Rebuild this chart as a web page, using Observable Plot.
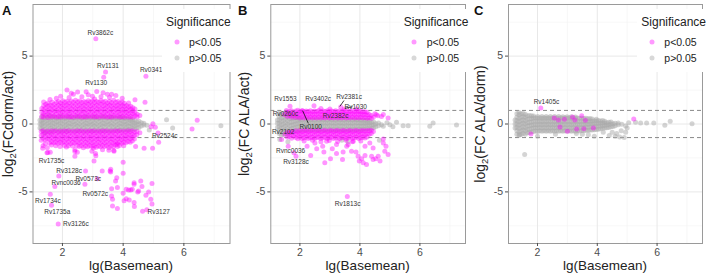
<!DOCTYPE html>
<html><head><meta charset="utf-8">
<script src="https://cdn.jsdelivr.net/npm/d3@7"></script>
<script src="https://cdn.jsdelivr.net/npm/@observablehq/plot@0.6"></script>
<style>
body{margin:0;background:#fff;font-family:"Liberation Sans",Arial,sans-serif;}
#wrap{display:flex;width:708px;height:276px;}
.panel{position:relative;width:236px;height:276px;}
.panel svg{position:absolute;left:0;top:0;}
.abs{position:absolute;white-space:nowrap;line-height:1;}
.letter{font-weight:bold;font-size:13px;color:#111;}
.xt{font-size:13.5px;color:#222;transform:translate(-50%,0);}
.yt{font-size:14px;color:#222;transform:translate(-50%,-50%) rotate(-90deg);}
.yt .s{font-size:9.5px;position:relative;top:3px;}
.leg{background:#fff;}
.lt{font-size:12px;color:#222;}
.li{font-size:10.5px;color:#222;}
.ld{width:5px;height:5px;border-radius:50%;transform:translate(-50%,-50%);}
</style></head>
<body><div id="wrap"></div>
<script>
// x domain / y domain shared
const xDomain = [1.03, 7.52];
const yDomain = [-8.8, 8.8];
const xMajor = [2, 4, 6], xMinor = [3, 5, 7];
const yMajor = [-5, 0, 5], yMinor = [-7.5, -2.5, 2.5, 7.5];
const legendLabels = ["p<0.05", "p>0.05"];

// ---------- Panel A (dorm/act) ----------
const aGrayRows = [
[1.26,-0.3,0.0,0.28],
[1.31,-0.35,-0.05,0.22,0.48],
[1.36,-0.52,-0.2,0.05,0.3,0.6],
[1.42,-0.4,-0.12,0.15,0.42,-0.68],
[1.49,-0.55,-0.28,0.0,0.25,0.5],
[1.55,-0.45,-0.15,0.1,0.35,0.62],
[1.62,-0.6,-0.3,-0.05,0.2,0.45],
[1.68,-0.42,-0.18,0.08,0.32,0.55],
[1.75,-0.5,-0.25,0.02,0.28,0.52],
[1.81,-0.38,-0.1,0.15,0.4],
[1.88,-0.55,-0.3,-0.02,0.22,0.47],
[1.94,-0.45,-0.18,0.1,0.35,0.58],
[2.01,-0.52,-0.25,0.0,0.26,0.5],
[2.08,-0.4,-0.12,0.14,0.4],
[2.14,-0.55,-0.28,-0.04,0.22,0.48],
[2.21,-0.45,-0.16,0.08,0.34,0.56],
[2.28,-0.5,-0.22,0.02,0.28,0.5],
[2.35,-0.38,-0.1,0.16,0.42],
[2.42,-0.52,-0.26,-0.02,0.24,0.48],
[2.49,-0.44,-0.15,0.1,0.36,0.55],
[2.56,-0.5,-0.24,0.0,0.27,0.5],
[2.63,-0.4,-0.12,0.14,0.4],
[2.70,-0.54,-0.27,-0.03,0.22,0.47],
[2.77,-0.45,-0.17,0.08,0.33,0.55],
[2.84,-0.5,-0.23,0.02,0.28,0.5],
[2.91,-0.4,-0.1,0.15,0.42],
[2.98,-0.52,-0.26,-0.02,0.24,0.48],
[3.05,-0.44,-0.15,0.1,0.35,0.54],
[3.12,-0.5,-0.24,0.0,0.27,0.5],
[3.19,-0.4,-0.12,0.14,0.4],
[3.26,-0.52,-0.27,-0.03,0.22,0.46],
[3.33,-0.45,-0.17,0.08,0.33,0.55],
[3.40,-0.5,-0.23,0.02,0.28,0.5],
[3.47,-0.4,-0.1,0.15,0.42],
[3.54,-0.52,-0.26,-0.02,0.24,0.48],
[3.61,-0.44,-0.15,0.1,0.35,0.52],
[3.68,-0.48,-0.24,0.0,0.27,0.48],
[3.75,-0.4,-0.12,0.14,0.4],
[3.82,-0.5,-0.27,-0.03,0.22,0.45],
[3.89,-0.44,-0.17,0.08,0.33,0.5],
[3.96,-0.46,-0.22,0.02,0.26,0.46],
[4.03,-0.38,-0.1,0.15,0.4],
[4.10,-0.45,-0.24,-0.02,0.22,0.42],
[4.17,-0.4,-0.14,0.1,0.33],
[4.24,-0.42,-0.2,0.02,0.25,0.4],
[4.31,-0.32,-0.08,0.14,0.32],
[4.38,-0.38,-0.16,0.05,0.25],
[4.45,-0.3,-0.06,0.15],
[4.52,-0.25,0.0,0.2],
[4.60,-0.15,0.1],
[4.68,-0.08,0.05],
[4.78,-0.1]
];
const aGrayExtra = [[5.43,0.32],[5.63,-0.29],[7.22,-0.12],[4.86,-0.45]];
const aUpRows = [
[1.32,0.55,0.85,1.15],
[1.38,0.5,0.78,1.05,1.35,1.62],
[1.45,0.62,0.9,1.2,1.45],
[1.52,0.48,0.75,1.02,1.3,1.55],
[1.59,0.58,0.88,1.12,1.4,1.8],
[1.66,0.52,0.8,1.05,1.32,1.6],
[1.73,0.6,0.92,1.18,1.45],
[1.80,0.5,0.76,1.0,1.28,1.58,1.9],
[1.87,0.56,0.84,1.1,1.38,1.65],
[1.94,0.5,0.78,1.04,1.3,1.55,2.05],
[2.01,0.6,0.88,1.15,1.42,1.72],
[2.08,0.52,0.8,1.06,1.34,1.6],
[2.15,0.58,0.86,1.12,1.4,1.68,2.5],
[2.22,0.5,0.76,1.02,1.3,1.56,1.95],
[2.29,0.56,0.84,1.1,1.38,1.7,2.27],
[2.36,0.5,0.78,1.05,1.32,1.6,2.2],
[2.43,0.6,0.88,1.15,1.45,1.75],
[2.50,0.52,0.8,1.08,1.35,1.62,2.35],
[2.57,0.58,0.86,1.12,1.4,1.7],
[2.64,0.5,0.76,1.02,1.3,1.58,2.0],
[2.71,0.56,0.84,1.1,1.38,1.66],
[2.78,0.5,0.78,1.05,1.32,1.6,2.38],
[2.85,0.6,0.88,1.15,1.45,1.72,2.15],
[2.92,0.52,0.8,1.08,1.35,1.62],
[2.99,0.58,0.86,1.12,1.4,1.7,2.05],
[3.06,0.5,0.76,1.02,1.3,1.58,1.85],
[3.13,0.56,0.84,1.1,1.38,1.66,2.4],
[3.20,0.5,0.78,1.05,1.32,1.6],
[3.27,0.6,0.88,1.15,1.45,1.72,2.0],
[3.34,0.52,0.8,1.08,1.35,1.62,2.3],
[3.41,0.58,0.86,1.12,1.4,1.68],
[3.48,0.5,0.76,1.02,1.3,1.55,2.2],
[3.55,0.56,0.84,1.1,1.38,1.65,1.95],
[3.62,0.5,0.78,1.05,1.32,1.58,2.2],
[3.69,0.6,0.88,1.15,1.42,1.75],
[3.76,0.52,0.8,1.06,1.32,1.6,2.1],
[3.83,0.58,0.86,1.12,1.38,1.65],
[3.90,0.5,0.76,1.02,1.28,1.55],
[3.97,0.56,0.82,1.08,1.35,1.62,1.9],
[4.04,0.5,0.78,1.04,1.3,1.52],
[4.11,0.58,0.85,1.1,1.36],
[4.18,0.5,0.76,1.0,1.25,1.55],
[4.25,0.55,0.82,1.08,1.3],
[4.32,0.5,0.75,0.98,1.2],
[4.39,0.6,0.85,1.1,1.78],
[4.46,0.52,0.72],
[4.55,0.62],
[4.72,1.6]
];
const aDownRows = [
[1.30,-0.55,-0.85,-1.2],
[1.36,-0.5,-0.78,-1.05,-1.6],
[1.43,-0.6,-0.9,-1.18,-1.45],
[1.50,-0.52,-0.8,-1.08,-1.75],
[1.57,-0.58,-0.86,-1.12,-1.4],
[1.64,-0.5,-0.76,-1.02,-1.3,-1.55],
[1.71,-0.56,-0.84,-1.1,-1.38],
[1.78,-0.5,-0.78,-1.05,-1.32,-1.6],
[1.85,-0.6,-0.88,-1.15,-1.42],
[1.92,-0.52,-0.8,-1.08,-1.35,-1.65],
[1.99,-0.58,-0.86,-1.12,-1.4],
[2.06,-0.5,-0.76,-1.02,-1.3,-1.58],
[2.13,-0.56,-0.84,-1.1,-1.38,-1.7],
[2.20,-0.5,-0.78,-1.05,-1.32,-1.6],
[2.27,-0.6,-0.88,-1.15,-1.45],
[2.34,-0.52,-0.8,-1.08,-1.35,-1.62],
[2.41,-0.58,-0.86,-1.12,-1.4,-1.9],
[2.48,-0.5,-0.76,-1.02,-1.3,-1.58],
[2.55,-0.56,-0.84,-1.1,-1.38,-1.66],
[2.62,-0.5,-0.78,-1.05,-1.32,-1.6],
[2.69,-0.6,-0.88,-1.15,-1.45,-1.75],
[2.76,-0.52,-0.8,-1.08,-1.35,-1.62],
[2.83,-0.58,-0.86,-1.12,-1.4,-1.68],
[2.90,-0.5,-0.76,-1.02,-1.3,-1.58],
[2.97,-0.56,-0.84,-1.1,-1.38,-1.66,-2.0],
[3.04,-0.5,-0.78,-1.05,-1.32,-1.6],
[3.11,-0.6,-0.88,-1.15,-1.45,-1.72],
[3.18,-0.52,-0.8,-1.08,-1.35,-1.62],
[3.25,-0.58,-0.86,-1.12,-1.4,-1.68],
[3.32,-0.5,-0.76,-1.02,-1.3,-1.58,-1.9],
[3.39,-0.56,-0.84,-1.1,-1.38,-1.66],
[3.46,-0.5,-0.78,-1.05,-1.32,-1.6],
[3.53,-0.6,-0.88,-1.15,-1.45,-1.75],
[3.60,-0.52,-0.8,-1.08,-1.35,-1.62],
[3.67,-0.58,-0.86,-1.12,-1.4,-1.68],
[3.74,-0.5,-0.76,-1.02,-1.3,-1.55],
[3.81,-0.56,-0.84,-1.1,-1.38,-1.65],
[3.88,-0.5,-0.78,-1.05,-1.32,-1.58],
[3.95,-0.6,-0.88,-1.15,-1.42],
[4.02,-0.52,-0.8,-1.06,-1.32,-1.6],
[4.09,-0.58,-0.85,-1.1,-1.38],
[4.16,-0.5,-0.76,-1.02,-1.28],
[4.23,-0.55,-0.82,-1.08,-1.35],
[4.30,-0.5,-0.75,-1.0,-1.25],
[4.37,-0.58,-0.85,-1.1],
[4.45,-0.55,-0.8],
[4.55,-0.65]
];
const aSigExtra = [
[3.10,6.27],[3.42,3.83],[3.36,3.44],[4.75,3.51],
[5.06,-0.24],[5.15,-0.66],[5.17,-1.34],[6.44,0.27],[6.27,-0.37],[4.92,-0.2],[4.98,0.02],
[1.35,-1.78],[1.52,-2.1],[2.41,-2.03],[3.02,-1.78],[3.1,-2.34],[3.69,-1.95],[4.41,-1.66],[4.69,-1.78],[4.97,-1.78],[3.8,-1.5],
[1.49,-2.12],[1.60,-2.08],[2.49,-2.08],[2.41,-2.37],[3.09,-2.17],[3.04,-2.73],[3.53,-1.93],[3.70,-2.0],[4.00,-2.81],
[1.88,-3.83],[1.75,-4.61],[1.60,-5.17],[1.64,-5.98],[1.86,-7.37],
[2.74,-4.44],[2.76,-3.47],[3.15,-4.03],[3.31,-3.47],[3.59,-3.54],[3.59,-3.34],[3.75,-4.2],[3.62,-4.76],[3.81,-4.68],
[4.0,-3.63],[4.18,-4.86],[4.25,-4.86],[4.3,-4.8],[4.36,-4.32],[4.36,-4.44],[4.58,-4.2],[4.95,-4.39],[4.51,-4.93],
[4.75,-5.25],[4.91,-5.54],[4.95,-5.9],[4.64,-6.42],[4.78,-6.32],[4.03,-5.66],[4.1,-5.5],[4.2,-5.6],[3.65,-5.54],
[3.65,-6.03],[3.81,-6.22],[4.0,-5.1],[4.36,-5.78],[4.37,-6.07],[4.48,-5.0],[4.62,-4.6],[4.84,-5.0],[3.57,-3.46],
[3.79,-3.95],[4.1,-4.8],[3.62,-5.3]
];
const aLabels = [
["Rv3862c",3.25,6.71],["Rv1131",3.5,4.29],["Rv1130",3.11,2.99],["Rv0341",4.92,3.97],["Rv2524c",5.37,-0.88],
["Rv1735c",1.64,-2.7],["Rv3128c",2.22,-3.46],["Rv0573c",2.85,-4.04],["Rvnc0036",2.12,-4.36],["Rv0572c",3.08,-5.15],
["Rv1734c",1.52,-5.68],["Rv1735a",1.83,-6.47],["Rv3126c",2.44,-7.38],["Rv3127",5.17,-6.47]
];
const aLinks = [];

// ---------- Panel B (ALA/act) ----------
const bGrayRows = [
[1.25,-0.25,0.05,0.3],
[1.31,-0.7,-0.45,-0.2,0.05,0.3,0.55,0.8],
[1.38,-0.82,-0.55,-0.3,-0.05,0.2,0.45,0.7],
[1.45,-0.75,-0.5,-0.25,0.0,0.25,0.5,0.78],
[1.52,-0.68,-0.42,-0.15,0.1,0.35,0.62,0.85],
[1.59,-0.78,-0.52,-0.28,-0.02,0.24,0.5,0.75],
[1.66,-0.65,-0.4,-0.12,0.12,0.38,0.62],
[1.73,-0.6,-0.35,-0.1,0.15,0.4,0.6],
[1.80,-0.55,-0.3,-0.05,0.2,0.45],
[1.87,-0.5,-0.26,0.0,0.24,0.48],
[1.94,-0.48,-0.22,0.03,0.28,0.45],
[2.01,-0.45,-0.2,0.05,0.3,0.42],
[2.08,-0.42,-0.16,0.08,0.32],
[2.15,-0.4,-0.14,0.1,0.36],
[2.22,-0.44,-0.18,0.06,0.3],
[2.29,-0.4,-0.12,0.12,0.35],
[2.36,-0.42,-0.16,0.08,0.32],
[2.43,-0.38,-0.12,0.1,0.34],
[2.50,-0.42,-0.18,0.06,0.3],
[2.57,-0.4,-0.14,0.1,0.35],
[2.64,-0.44,-0.18,0.06,0.3],
[2.71,-0.38,-0.12,0.12,0.35],
[2.78,-0.42,-0.16,0.08,0.32],
[2.85,-0.4,-0.14,0.1,0.34],
[2.92,-0.44,-0.18,0.06,0.3],
[2.99,-0.38,-0.12,0.12,0.36],
[3.06,-0.42,-0.16,0.08,0.32],
[3.13,-0.4,-0.14,0.1,0.34],
[3.20,-0.44,-0.18,0.06,0.3],
[3.27,-0.38,-0.12,0.12,0.35],
[3.34,-0.42,-0.16,0.08,0.32],
[3.41,-0.4,-0.14,0.1,0.34],
[3.48,-0.44,-0.18,0.06,0.3],
[3.55,-0.38,-0.12,0.12,0.35],
[3.62,-0.42,-0.16,0.08,0.32],
[3.69,-0.4,-0.14,0.1,0.33],
[3.76,-0.43,-0.18,0.06,0.3],
[3.83,-0.38,-0.12,0.12,0.34],
[3.90,-0.42,-0.16,0.08,0.3],
[3.97,-0.38,-0.14,0.1,0.32],
[4.04,-0.4,-0.16,0.06,0.28],
[4.11,-0.36,-0.12,0.1,0.3],
[4.18,-0.38,-0.15,0.06,0.26],
[4.25,-0.34,-0.1,0.1,0.28],
[4.32,-0.36,-0.12,0.08,0.25],
[4.39,-0.3,-0.08,0.12],
[4.46,-0.28,-0.05,0.15],
[4.53,-0.2,0.02],
[4.62,-0.12,0.08],
[4.72,-0.05]
];
const bGrayExtra = [[4.78,-0.17],[5.0,-0.05],[5.1,-0.2],[5.22,0.12],[5.44,-0.12],[5.61,-0.12],[6.33,-0.17],[6.44,0.07],[7.22,-0.07],
[1.33,-1.15],[1.6,-1.3],[3.4,-1.2],[3.6,-1.3],[4.65,-1.2],[4.9,0.1]];
const bUpRows = [
[1.48,0.7],[1.58,0.55,0.85],[1.65,0.62,0.92],[1.72,0.5,0.75,0.98],[1.79,0.58,0.82],
[1.86,0.48,0.72,0.95],[1.93,0.55,0.8,1.02],[2.00,0.45,0.7,0.92],[2.07,0.52,0.78,0.98],[2.14,0.44,0.68,0.9],
[2.21,0.5,0.75,0.96],[2.28,0.45,0.7,0.92],[2.35,0.52,0.76,0.98],[2.42,0.44,0.68,0.9],[2.49,0.5,0.74,0.96],
[2.56,0.45,0.7,0.92],[2.63,0.52,0.76,1.0],[2.70,0.44,0.68,0.9],[2.77,0.5,0.74,0.96],[2.84,0.45,0.7,0.92],
[2.91,0.52,0.76,0.98],[2.98,0.44,0.68,0.9],[3.05,0.5,0.74,0.96],[3.12,0.45,0.7,0.92],[3.19,0.52,0.76,0.98],
[3.26,0.44,0.68,0.9],[3.33,0.5,0.74,0.96],[3.40,0.45,0.7,0.92],[3.47,0.52,0.76,0.98],[3.54,0.44,0.68,0.9],
[3.61,0.5,0.74,0.96],[3.68,0.45,0.7,0.92],[3.75,0.52,0.76,0.98],[3.82,0.44,0.68,0.9],[3.89,0.5,0.74,0.95],
[3.96,0.45,0.7,0.92],[4.03,0.5,0.74,0.94],[4.10,0.44,0.68,0.88],[4.17,0.48,0.72,0.9],[4.24,0.42,0.66,0.86],
[4.31,0.46,0.7],[4.38,0.42,0.62],[4.45,0.5]
];
const bDownRows = [
[1.50,-0.75],[1.58,-0.6,-0.95],[1.65,-0.65,-0.9],[1.72,-0.55,-0.8,-1.05],[1.79,-0.6,-0.88],
[1.86,-0.5,-0.75,-1.0],[1.93,-0.58,-0.82,-1.08],[2.00,-0.48,-0.72,-0.98],[2.07,-0.55,-0.8,-1.06],[2.14,-0.5,-0.76,-1.02,-1.25],
[2.21,-0.48,-0.72,-0.98],[2.28,-0.55,-0.8,-1.06],[2.35,-0.5,-0.76,-1.02],[2.42,-0.48,-0.72,-0.98,-1.2],[2.49,-0.55,-0.8,-1.06],
[2.56,-0.5,-0.76,-1.02],[2.63,-0.48,-0.72,-0.98],[2.70,-0.55,-0.8,-1.06,-1.3],[2.77,-0.5,-0.76,-1.02],[2.84,-0.48,-0.72,-0.98],
[2.91,-0.55,-0.8,-1.06],[2.98,-0.5,-0.76,-1.02,-1.22],[3.05,-0.48,-0.72,-0.98],[3.12,-0.55,-0.8,-1.06],[3.19,-0.5,-0.76,-1.02],
[3.26,-0.48,-0.72,-0.98,-1.28],[3.33,-0.55,-0.8,-1.06],[3.40,-0.5,-0.76,-1.02],[3.47,-0.48,-0.72,-0.98],[3.54,-0.55,-0.8,-1.06,-1.2],
[3.61,-0.5,-0.76,-1.02],[3.68,-0.48,-0.72,-0.98],[3.75,-0.55,-0.8,-1.06,-1.3],[3.82,-0.5,-0.76,-1.02],[3.89,-0.48,-0.72,-0.98],
[3.96,-0.55,-0.8,-1.06],[4.03,-0.5,-0.76,-1.02,-1.25],[4.10,-0.48,-0.72,-0.98],[4.17,-0.52,-0.78,-1.04],[4.24,-0.48,-0.72,-0.96],
[4.31,-0.5,-0.75],[4.38,-0.46,-0.7],[4.45,-0.55]
];
const bSigExtra = [
[1.67,1.3],[2.47,1.35],[3.36,1.25],[3.47,1.1],[2.09,0.98],[2.7,1.15],[3.0,1.1],[3.9,1.1],[4.78,0.7],[4.94,0.44],[4.6,0.6],[4.5,0.75],[1.55,1.0],[4.55,0.68],[4.72,0.55],
[1.39,-1.15],[1.61,-1.63],[1.8,-2.12],[1.87,-2.37],[2.36,-2.32],[2.56,-1.83],[2.76,-1.63],[2.8,-2.07],[2.83,-2.85],[3.02,-2.56],
[3.08,-1.83],[3.22,-2.17],[3.42,-2.61],[3.44,-2.07],[3.61,-1.51],[3.72,-2.0],[3.87,-2.07],[3.94,-2.37],[3.98,-2.73],[4.06,-2.56],
[4.11,-2.85],[4.17,-2.32],[4.22,-2.98],[4.33,-1.39],[4.39,-2.37],[4.44,-2.61],[4.53,-2.56],[4.61,-2.37],[4.67,-2.73],[4.78,-1.1],
[4.87,-1.63],[4.94,-2.24],[4.83,-2.0],[4.78,-1.39],[2.24,-1.63],[2.5,-1.39],[2.89,-1.27],[3.22,-1.51],[3.56,-1.63],[3.78,-1.27],
[4.17,-1.63],[4.44,-1.76],[3.58,-5.34]
];
const bLabels = [
["Rv1553",1.52,1.83],["Rv3402c",2.61,1.83],["Rv2381c",3.64,2.02],["Rv1030",3.86,1.27],["Rv0260c",1.52,0.73],
["Rv2382c",3.19,0.61],["Rv0100",2.36,-0.2],["Rv2102",1.44,-0.59],["Rvnc0036",1.69,-2.0],["Rv3128c",1.87,-2.8],["Rv1813c",3.59,-5.85]
];
const bLinks = [[2.09,0.98,2.28,0.05],[3.33,1.29,3.47,1.73],[3.5,1.15,3.75,1.27]];

// ---------- Panel C (ALA/dorm) ----------
const cGrayRows = [
[1.25,-0.3,0.0,0.3],
[1.31,-0.75,-0.5,-0.25,0.0,0.25,0.5,0.75],
[1.38,-0.82,-0.58,-0.32,-0.08,0.18,0.42,0.68,0.85],
[1.45,-0.78,-0.52,-0.28,0.0,0.25,0.5,0.75],
[1.52,-0.7,-0.45,-0.2,0.05,0.3,0.55,0.78],
[1.59,-0.75,-0.5,-0.25,0.0,0.25,0.5,0.72],
[1.66,-0.65,-0.4,-0.15,0.1,0.35,0.6],
[1.73,-0.62,-0.38,-0.12,0.12,0.38,0.62],
[1.80,-0.58,-0.34,-0.1,0.15,0.4,0.6],
[1.87,-0.55,-0.3,-0.05,0.2,0.45,0.58],
[1.94,-0.52,-0.28,-0.03,0.22,0.46],
[2.01,-0.55,-0.3,-0.06,0.18,0.42,0.55],
[2.08,-0.5,-0.26,-0.02,0.22,0.46],
[2.15,-0.54,-0.3,-0.06,0.18,0.42,0.56],
[2.22,-0.5,-0.26,-0.02,0.22,0.46],
[2.29,-0.54,-0.3,-0.06,0.18,0.42,0.55],
[2.36,-0.5,-0.26,-0.02,0.22,0.46],
[2.43,-0.54,-0.3,-0.06,0.18,0.42,0.56],
[2.50,-0.5,-0.26,-0.02,0.22,0.46],
[2.57,-0.54,-0.3,-0.06,0.18,0.42,0.55],
[2.64,-0.5,-0.26,-0.02,0.22,0.46],
[2.71,-0.54,-0.3,-0.06,0.18,0.42,0.55],
[2.78,-0.5,-0.26,-0.02,0.22,0.46],
[2.85,-0.54,-0.3,-0.06,0.18,0.42,0.54],
[2.92,-0.5,-0.26,-0.02,0.22,0.46],
[2.99,-0.54,-0.3,-0.06,0.18,0.42,0.54],
[3.06,-0.5,-0.26,-0.02,0.22,0.46],
[3.13,-0.54,-0.3,-0.06,0.18,0.42,0.53],
[3.20,-0.5,-0.26,-0.02,0.22,0.46],
[3.27,-0.54,-0.3,-0.06,0.18,0.42,0.52],
[3.34,-0.5,-0.26,-0.02,0.22,0.45],
[3.41,-0.52,-0.28,-0.05,0.18,0.42],
[3.48,-0.48,-0.25,-0.02,0.22,0.44],
[3.55,-0.5,-0.27,-0.05,0.18,0.4],
[3.62,-0.46,-0.22,0.0,0.22,0.42],
[3.69,-0.48,-0.25,-0.03,0.18,0.38],
[3.76,-0.44,-0.2,0.02,0.22,0.4],
[3.83,-0.45,-0.22,0.0,0.2,0.36],
[3.90,-0.42,-0.18,0.04,0.24],
[3.97,-0.4,-0.18,0.02,0.22,0.35],
[4.04,-0.38,-0.15,0.06,0.25],
[4.11,-0.35,-0.14,0.05,0.22],
[4.18,-0.32,-0.12,0.08,0.25],
[4.25,-0.3,-0.1,0.08,0.2],
[4.32,-0.28,-0.08,0.1],
[4.39,-0.25,-0.06,0.12],
[4.46,-0.2,0.0,0.15],
[4.53,-0.18,0.02],
[4.60,-0.12,0.06],
[4.70,-0.05,0.08],
[4.82,-0.02]
];
const cGrayExtra = [[1.57,-2.25],[5.28,0.12],[5.45,0.08],[5.65,0.08],[5.89,0.07],[6.26,-0.1],[6.44,0.2],[7.17,0.02],
[4.6,-0.9],[4.75,-0.95],[4.9,-1.0],[4.4,-0.85],[3.7,-0.8],[3.5,-0.75],[2.0,-0.9],[1.4,-0.8],[4.95,-0.6],[5.0,-0.3],[3.9,-0.9],
[4.5,-0.6],[4.65,-0.7],[4.8,-0.5],[4.2,-0.6],[3.3,-0.7],[2.6,-0.75],[5.05,0.1],[4.95,-0.15]];
const cUpRows = [];
const cDownRows = [];
const cSigExtra = [[2.11,1.17],[1.78,-0.73],[2.56,0.44],[3.17,0.51],[3.48,0.61],[5.22,0.37],[3.0,-0.54],[3.31,-0.37],[3.87,-0.29],
[2.7,0.3],[2.9,0.35],[3.25,0.3],[3.55,-0.35],[2.75,-0.22],[3.6,0.28]];
const cLabels = [["Rv1405c",2.3,1.66]];
const cLinks = [];

// ---------- build ----------
const rowsToPts = rows => rows.flatMap(([x, ...ys]) => ys.map(y => ({x, y})));
const pairs = arr => arr.map(([x, y]) => ({x, y}));

const panels = [
  {letter:"A", gray:[...rowsToPts(aGrayRows), ...pairs(aGrayExtra)], sig:[...rowsToPts(aUpRows), ...rowsToPts(aDownRows), ...pairs(aSigExtra)],
   labels:aLabels, links:aLinks, ml:32.5, mr:6.5, ytitle:["log","2","(FCdorm/act)"], legX:166},
  {letter:"B", gray:[...rowsToPts(bGrayRows), ...pairs(bGrayExtra)], sig:[...rowsToPts(bUpRows), ...rowsToPts(bDownRows), ...pairs(bSigExtra)],
   labels:bLabels, links:bLinks, ml:34.3, mr:7, ytitle:["log","2","(FC ALA/act)"], legX:167.7},
  {letter:"C", gray:[...rowsToPts(cGrayRows), ...pairs(cGrayExtra)], sig:[...rowsToPts(cUpRows), ...rowsToPts(cDownRows), ...pairs(cSigExtra)],
   labels:cLabels, links:cLinks, ml:36, mr:6, ytitle:["log","2","(FC ALA/dorm)"], legX:169.3}
];

const W = 236, H = 276, MT = 4, MB = 33;
const wrap = document.getElementById("wrap");
for (const p of panels) {
  const div = document.createElement("div");
  div.className = "panel";
  const chart = Plot.plot({
    width: W, height: H, marginLeft: p.ml, marginRight: p.mr, marginTop: MT, marginBottom: MB,
    x: {domain: xDomain}, y: {domain: yDomain},
    style: {fontFamily: "'Liberation Sans', Arial, sans-serif", fontSize: "10.5px", color: "#4d4d4d", background: "transparent"},
    marks: [
      Plot.gridX(xMinor, {stroke: "#f3f3f3", strokeOpacity: 1, strokeWidth: 0.7}),
      Plot.gridY(yMinor, {stroke: "#f3f3f3", strokeOpacity: 1, strokeWidth: 0.7}),
      Plot.gridX(xMajor, {stroke: "#e8e8e8", strokeOpacity: 1, strokeWidth: 1}),
      Plot.gridY(yMajor, {stroke: "#e8e8e8", strokeOpacity: 1, strokeWidth: 1}),
      Plot.ruleY([-1, 1], {stroke: "#7a7a7a", strokeDasharray: "4,3", strokeWidth: 0.9}),
      Plot.dot(p.gray, {x: "x", y: "y", r: 2.5, fill: "#a9a9a9", fillOpacity: 0.5}),
      Plot.dot(p.sig, {x: "x", y: "y", r: 2.5, fill: "#ff00ff", fillOpacity: 0.42}),
      Plot.link(p.links, {x1: d => d[0], y1: d => d[1], x2: d => d[2], y2: d => d[3], stroke: "#111", strokeWidth: 0.8}),
      Plot.text(p.labels, {x: d => d[1], y: d => d[2], text: d => d[0], fontSize: 6.5, fill: "#333"}),
      Plot.frame({stroke: "#9a9a9a", strokeWidth: 1}),
      Plot.axisX({ticks: xMajor, tickSize: 3, tickPadding: 2.5, label: null, fontSize: 10.5, tickFormat: d => String(d)}),
      Plot.axisY({ticks: yMajor, tickSize: 3, tickPadding: 2.5, label: null, fontSize: 10.5, tickFormat: d => String(d)})
    ]
  });
  div.appendChild(chart);
  const plotL = p.ml, plotR = W - p.mr, plotT = MT, plotB = H - MB;
  const cx = (plotL + plotR) / 2, cy = (plotT + plotB) / 2;
  const lx = p.legX;
  div.insertAdjacentHTML("beforeend", `
    <div class="abs letter" style="left:2px;top:4px">${p.letter}</div>
    <div class="abs xt" style="left:${cx}px;top:259px">lg(Basemean)</div>
    <div class="abs yt" style="left:8px;top:${cy}px">${p.ytitle[0]}<span class="s">${p.ytitle[1]}</span>${p.ytitle[2]}</div>
    <div class="abs leg" style="left:${lx-4}px;top:9px;width:${W-lx+4}px;height:63px"></div>
    <div class="abs lt" style="left:${lx}px;top:15.5px">Significance</div>
    <div class="abs ld" style="left:${lx+10.7}px;top:41.7px;background:rgba(255,0,255,0.4)"></div>
    <div class="abs li" style="left:${lx+23}px;top:36.5px">${legendLabels[0].replace("<","&lt;")}</div>
    <div class="abs ld" style="left:${lx+10.7}px;top:58.3px;background:rgba(169,169,169,0.45)"></div>
    <div class="abs li" style="left:${lx+23}px;top:53px">${legendLabels[1].replace(">","&gt;")}</div>
  `);
  wrap.appendChild(div);
}
</script>
</body></html>
